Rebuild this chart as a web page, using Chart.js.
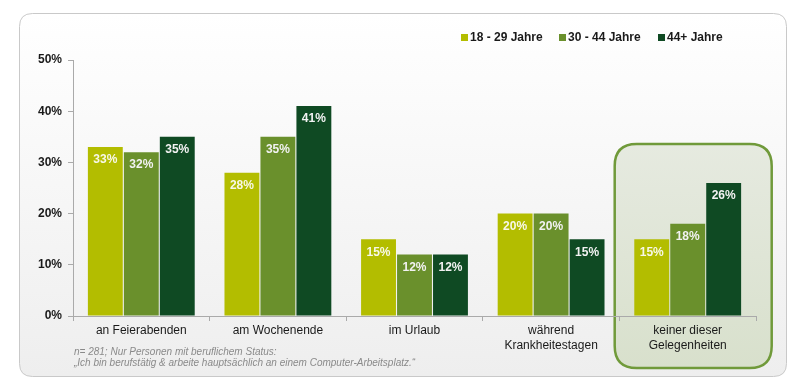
<!DOCTYPE html>
<html>
<head>
<meta charset="utf-8">
<script src="https://cdn.jsdelivr.net/npm/chart.js"></script>
<style>
  body { margin: 0; background: #fff; }
  #wrap { width: 803px; height: 385px; }
</style>
</head>
<body>
<div id="wrap"><canvas id="myChart" width="803" height="385"></canvas></div>
<script>
// data
const categories = ['an Feierabenden', 'am Wochenende', 'im Urlaub', ['während', 'Krankheitestagen'], ['keiner dieser', 'Gelegenheiten']];
const seriesNames = ['18 - 29 Jahre', '30 - 44 Jahre', '44+ Jahre'];
const young = [33, 28, 15, 20, 15];
const middle = [32, 35, 12, 20, 18];
const older = [35, 41, 12, 15, 26];
const yTicks = [0, 10, 20, 30, 40, 50];
const footnote = ['n= 281; Nur Personen mit beruflichem Status:', '„Ich bin berufstätig & arbeite hauptsächlich an einem Computer-Arbeitsplatz.“'];

const colors = ['#b3bd00', '#6a902c', '#0f4a23'];
const font = 'Arial, "Liberation Sans", sans-serif';

function roundRect(ctx, x, y, w, h, r) {
  ctx.beginPath();
  ctx.moveTo(x + r, y);
  ctx.lineTo(x + w - r, y);
  ctx.quadraticCurveTo(x + w, y, x + w, y + r);
  ctx.lineTo(x + w, y + h - r);
  ctx.quadraticCurveTo(x + w, y + h, x + w - r, y + h);
  ctx.lineTo(x + r, y + h);
  ctx.quadraticCurveTo(x, y + h, x, y + h - r);
  ctx.lineTo(x, y + r);
  ctx.quadraticCurveTo(x, y, x + r, y);
  ctx.closePath();
}

// frame, highlight box, legend and footnote
const decor = {
  id: 'decor',
  beforeDraw(chart) {
    const ctx = chart.ctx;
    ctx.save();
    // outer frame
    const g = ctx.createLinearGradient(0, 13, 0, 376);
    g.addColorStop(0, '#ffffff');
    g.addColorStop(1, '#eeeeee');
    roundRect(ctx, 19.5, 13.5, 767, 363, 13);
    ctx.fillStyle = g;
    ctx.fill();
    ctx.strokeStyle = '#c9c9c9';
    ctx.lineWidth = 1;
    ctx.stroke();

    // highlight around last category
    const x = chart.scales.x;
    const cx = x.getPixelForValue(4);
    const hg = ctx.createLinearGradient(0, 144, 0, 368);
    hg.addColorStop(0, '#e6eae0');
    hg.addColorStop(1, '#d8e0cc');
    roundRect(ctx, cx - 73, 144, 157, 224, 22);
    ctx.fillStyle = hg;
    ctx.fill();
    ctx.strokeStyle = '#709a3a';
    ctx.lineWidth = 2.5;
    ctx.stroke();

    // legend
    const lx = [461, 559, 658];
    ctx.font = 'bold 12px ' + font;
    ctx.textBaseline = 'middle';
    ctx.textAlign = 'left';
    seriesNames.forEach((n, i) => {
      ctx.fillStyle = colors[i];
      ctx.fillRect(lx[i], 34, 7, 7);
      ctx.fillStyle = '#1a1a1a';
      ctx.fillText(n, lx[i] + 9, 38);
    });

    // footnote
    ctx.font = 'italic 10px ' + font;
    ctx.fillStyle = '#8a8a8a';
    ctx.fillText(footnote[0], 74, 352);
    ctx.fillText(footnote[1], 74, 363);
    ctx.restore();
  },
  afterDatasetsDraw(chart) {
    const ctx = chart.ctx;
    ctx.save();
    ctx.font = 'bold 12px ' + font;
    ctx.textAlign = 'center';
    ctx.textBaseline = 'middle';
    chart.data.datasets.forEach((ds, i) => {
      chart.getDatasetMeta(i).data.forEach((bar, j) => {
        ctx.fillStyle = i === 0 ? '#f8f8e8' : '#f2f2f2';
        ctx.fillText(ds.data[j] + '%', bar.x, bar.y + 13);
      });
    });
    ctx.restore();
  }
};

new Chart(document.getElementById('myChart'), {
  type: 'bar',
  data: {
    labels: categories,
    datasets: [
      { label: seriesNames[0], data: young, backgroundColor: colors[0] },
      { label: seriesNames[1], data: middle, backgroundColor: colors[1] },
      { label: seriesNames[2], data: older, backgroundColor: colors[2] }
    ]
  },
  options: {
    responsive: false,
    devicePixelRatio: 1,
    animation: false,
    layout: { padding: { left: 0, top: 60, right: 47, bottom: 0 } },
    datasets: { bar: { categoryPercentage: 0.79, barPercentage: 0.97 } },
    plugins: { legend: { display: false }, tooltip: { enabled: false } },
    scales: {
      x: {
        afterFit(s) { s.height = 69; },
        grid: { drawOnChartArea: false, tickLength: 5, color: '#aaaaaa', offset: true },
        border: { color: '#aaaaaa' },
        ticks: { color: '#1a1a1a', font: { family: font, size: 12, lineHeight: 1.25 }, padding: 2, maxRotation: 0, autoSkip: false }
      },
      y: {
        min: 0, max: 50,
        afterFit(s) { s.width = 73; },
        afterBuildTicks(s) { s.ticks = yTicks.map(v => ({ value: v })); },
        grid: { drawOnChartArea: false, tickLength: 5, color: '#aaaaaa' },
        border: { color: '#aaaaaa' },
        ticks: { color: '#1a1a1a', font: { family: font, size: 12, weight: 'bold' }, padding: 6, callback: v => v + '%' }
      }
    }
  },
  plugins: [decor]
});
</script>
</body>
</html>
